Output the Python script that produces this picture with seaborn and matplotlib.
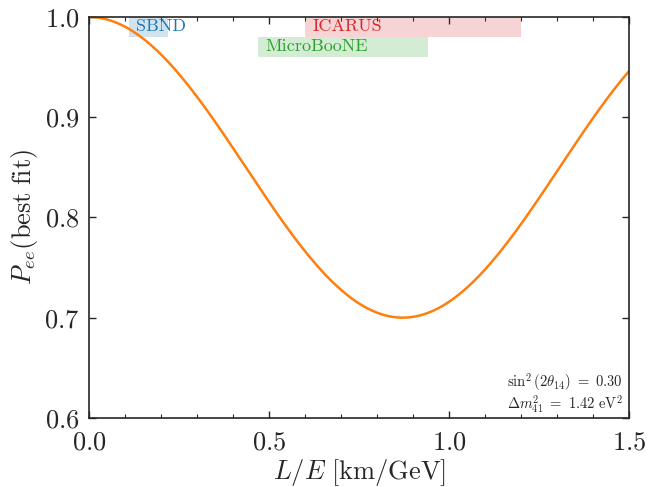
import numpy as np
import matplotlib
matplotlib.use("Agg")
import matplotlib.pyplot as plt
import seaborn as sns
import pandas as pd
from matplotlib.ticker import MultipleLocator

sns.set_theme(style="ticks")
plt.rcParams.update({
    "font.family": "serif",
    "font.serif": ["cmr10"],
    "mathtext.fontset": "cm",
    "axes.formatter.use_mathtext": True,
    "axes.unicode_minus": False,
})

# Best-fit oscillation parameters
sin2_2theta = 0.30
dm2_41 = 1.42  # eV^2

# Experiment L/E coverage bands
exp_names = ["SBND", "ICARUS", "MicroBooNE"]
exp_le_lo = [0.11, 0.60, 0.47]
exp_le_hi = [0.22, 1.20, 0.94]
exp_y_lo = [0.98, 0.98, 0.96]
exp_y_hi = [1.00, 1.00, 0.98]
exp_colors = ["tab:blue", "tab:red", "tab:green"]

# Survival probability P_ee(L/E)
le = np.linspace(0.0, 1.5, 400)
p_ee = 1.0 - sin2_2theta * np.sin(1.27 * dm2_41 * le) ** 2
df = pd.DataFrame({"L/E": le, "Pee": p_ee})

fig, ax = plt.subplots(figsize=(6.59, 4.87), dpi=100)

sns.lineplot(data=df, x="L/E", y="Pee", color="tab:orange", lw=1.8, ax=ax)

for name, x0, x1, y0, y1, c in zip(exp_names, exp_le_lo, exp_le_hi,
                                   exp_y_lo, exp_y_hi, exp_colors):
    ax.fill_between([x0, x1], y0, y1, color=c, alpha=0.2, lw=0)
    ax.text(x0 + 0.02, (y0 + y1) / 2 + 0.001, name, color=c, fontsize=13,
            ha="left", va="center")

ax.text(0.988, 0.006,
        r"$\sin^2(2\theta_{14})\ =\ 0.30$" "\n" r"$\Delta m^2_{41}\ =\ 1.42\ \mathrm{eV}^2$",
        transform=ax.transAxes, ha="right", va="bottom", fontsize=10.5,
        multialignment="right", linespacing=1.05)

ax.set_xlim(0.0, 1.5)
ax.set_ylim(0.6, 1.0)
ax.xaxis.set_major_locator(MultipleLocator(0.5))
ax.xaxis.set_minor_locator(MultipleLocator(0.1))
ax.yaxis.set_major_locator(MultipleLocator(0.1))
ax.tick_params(which="both", direction="in", top=True, right=True)
ax.tick_params(which="major", length=5, width=1, labelsize=19)
ax.tick_params(which="minor", length=3, width=0.8)
ax.tick_params(axis="x", which="major", pad=9)
ax.tick_params(axis="y", which="major", pad=7)
for s in ax.spines.values():
    s.set_linewidth(1.2)

ax.set_xlabel(r"$L/E\ [\mathrm{km/GeV}]$", fontsize=19, labelpad=2)
ax.set_ylabel(r"$P_{ee}(\mathrm{best\ fit})$", fontsize=19, labelpad=3)

fig.subplots_adjust(left=0.135, right=0.955, top=0.965, bottom=0.142)
fig.savefig("out.png", dpi=100)
